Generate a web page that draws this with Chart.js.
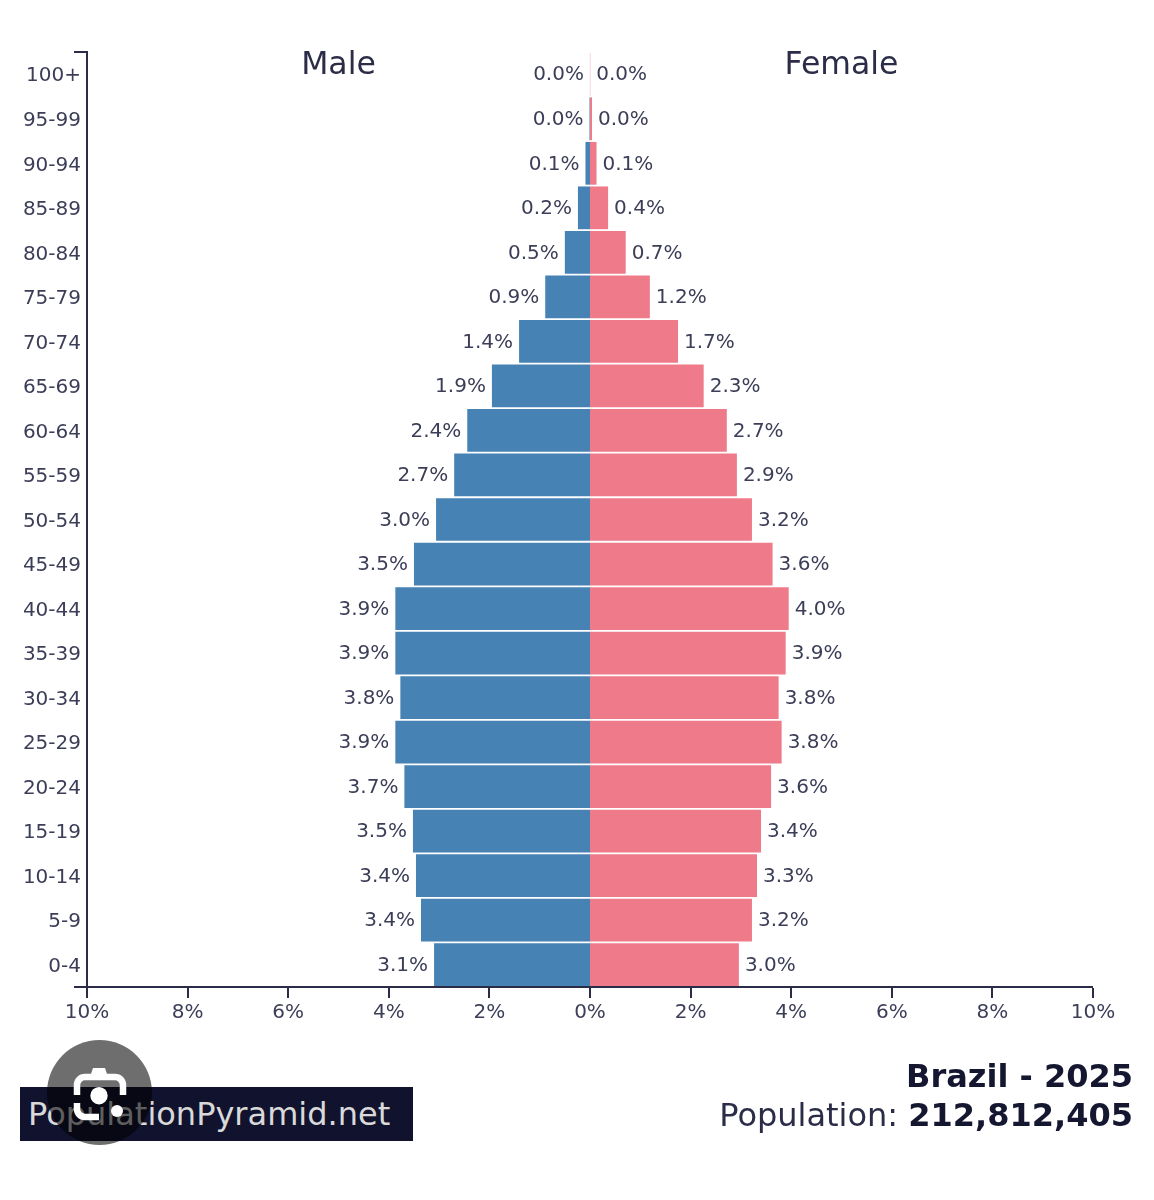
<!DOCTYPE html>
<html>
<head>
<meta charset="utf-8">
<title>Brazil - 2025</title>
<script src="https://cdn.jsdelivr.net/npm/chart.js@4"></script>
<style>
  body { margin: 0; background: #fff; font-family: "DejaVu Sans", sans-serif; }
  #page { position: relative; width: 1154px; height: 1200px; overflow: hidden; }
  #brand {
    position: absolute; left: 20px; top: 1087px; width: 393px; height: 54px;
    background: #11132e; color: #d9d9d9; font-size: 32px; line-height: 54px;
    text-indent: 8px; white-space: nowrap;
  }
  #info {
    position: absolute; right: 21px; top: 1057px; text-align: right;
    color: #2b2d48; font-size: 32px; line-height: 39px; white-space: nowrap;
  }
  #info b { color: #14172f; }
  #lens { position: absolute; left: 47px; top: 1040px; }
</style>
</head>
<body>
<div id="page">
  <canvas id="pyramid"></canvas>
  <div id="brand">PopulationPyramid.net</div>
  <div id="info"><b>Brazil - 2025</b><br>Population: <b>212,812,405</b></div>
  <svg id="lens" width="105" height="105" viewBox="0 0 105 105">
    <circle cx="52.5" cy="52.5" r="52.5" fill="#000" fill-opacity="0.57"/>
    <path d="M30 55V45a8 8 0 0 1 8-8H68a8 8 0 0 1 8 8V55M30 63V69a8 8 0 0 0 8 8H52" fill="none" stroke="#fff" stroke-width="6.5"/>
    <path d="M43 37l3-9h12l3 9z" fill="#fff"/>
    <circle cx="52" cy="55.7" r="8.7" fill="#fff"/>
    <circle cx="70" cy="71" r="6" fill="#fff"/>
  </svg>
</div>

<script>
// Tranches d'age, du haut vers le bas
const ageGroups = ['100+', '95-99', '90-94', '85-89', '80-84', '75-79', '70-74', '65-69', '60-64', '55-59', '50-54',
  '45-49', '40-44', '35-39', '30-34', '25-29', '20-24', '15-19', '10-14', '5-9', '0-4'];

// Valeurs (% de la population), negatives a gauche pour les hommes
const maleValues = [-0.001, -0.01, -0.09, -0.24, -0.5, -0.89, -1.41, -1.95, -2.44, -2.7, -3.06,
  -3.5, -3.87, -3.87, -3.77, -3.87, -3.69, -3.52, -3.46, -3.36, -3.1];
const femaleValues = [0.005, 0.04, 0.13, 0.36, 0.71, 1.19, 1.75, 2.26, 2.72, 2.92, 3.22,
  3.63, 3.95, 3.89, 3.75, 3.81, 3.6, 3.4, 3.32, 3.22, 2.96];

// Etiquettes imprimees a cote des barres
const maleLabels = ['0.0%', '0.0%', '0.1%', '0.2%', '0.5%', '0.9%', '1.4%', '1.9%', '2.4%', '2.7%', '3.0%',
  '3.5%', '3.9%', '3.9%', '3.8%', '3.9%', '3.7%', '3.5%', '3.4%', '3.4%', '3.1%'];
const femaleLabels = ['0.0%', '0.0%', '0.1%', '0.4%', '0.7%', '1.2%', '1.7%', '2.3%', '2.7%', '2.9%', '3.2%',
  '3.6%', '4.0%', '3.9%', '3.8%', '3.8%', '3.6%', '3.4%', '3.3%', '3.2%', '3.0%'];

const axisColor = '#2b2d48';
const textColor = '#3c3e58';
const fontFamily = '"DejaVu Sans", sans-serif';

// Etiquettes de valeur, titres Male / Female et petits traits aux bouts de l'axe vertical
const pyramidDecor = {
  id: 'pyramidDecor',
  afterDatasetsDraw(chart) {
    const ctx = chart.ctx;
    const area = chart.chartArea;
    const x = chart.scales.x;
    const y = chart.scales.y;
    ctx.save();

    ctx.font = '20px ' + fontFamily;
    ctx.fillStyle = textColor;
    ctx.textBaseline = 'middle';
    ageGroups.forEach(function(age, i) {
      ctx.textAlign = 'right';
      ctx.fillText(maleLabels[i], x.getPixelForValue(maleValues[i]) - 6, y.getPixelForValue(i) + 1);
      ctx.textAlign = 'left';
      ctx.fillText(femaleLabels[i], x.getPixelForValue(femaleValues[i]) + 6, y.getPixelForValue(i) + 1);
    });

    ctx.font = '31.5px ' + fontFamily;
    ctx.fillStyle = axisColor;
    ctx.textAlign = 'center';
    ctx.fillText('Male', x.getPixelForValue(-5), 66);
    ctx.fillText('Female', x.getPixelForValue(5), 66);

    ctx.strokeStyle = axisColor;
    ctx.lineWidth = 2;
    ctx.beginPath();
    ctx.moveTo(area.left - 13, area.top);
    ctx.lineTo(area.left, area.top);
    ctx.moveTo(area.left - 13, area.bottom);
    ctx.lineTo(area.left, area.bottom);
    ctx.stroke();
    ctx.restore();
  }
};

const wrap = document.getElementById('pyramid');
wrap.width = 1154;
wrap.height = 1200;

new Chart(wrap, {
  type: 'bar',
  data: {
    labels: ageGroups,
    datasets: [
      { label: 'Male', data: maleValues, backgroundColor: '#4682b4' },
      { label: 'Female', data: femaleValues, backgroundColor: '#ef7a8a' }
    ]
  },
  options: {
    indexAxis: 'y',
    responsive: false,
    animation: false,
    categoryPercentage: 1,
    barPercentage: 0.96,
    layout: { padding: { top: 52, right: 61, left: 0, bottom: 0 } },
    plugins: {
      legend: { display: false },
      tooltip: { enabled: false }
    },
    scales: {
      x: {
        stacked: true,
        min: -10,
        max: 10,
        afterFit(scale) { scale.height = 213; },
        border: { color: axisColor, width: 2 },
        // lineWidth a 0 : sinon Chart.js decale la base des barres et laisse un trou au centre
        grid: { drawOnChartArea: false, lineWidth: 0, tickColor: axisColor, tickWidth: 2, tickLength: 11 },
        ticks: {
          stepSize: 2,
          maxRotation: 0,
          padding: 3,
          color: textColor,
          font: { family: fontFamily, size: 20 },
          callback: function(value) { return Math.abs(value) + '%'; }
        }
      },
      y: {
        stacked: true,
        afterFit(scale) { scale.width = 87; },
        border: { color: axisColor, width: 2 },
        grid: { drawOnChartArea: false, drawTicks: false },
        ticks: {
          autoSkip: false,
          padding: 6,
          labelOffset: 2,
          color: textColor,
          font: { family: fontFamily, size: 20 }
        }
      }
    }
  },
  plugins: [pyramidDecor]
});
</script>
</body>
</html>
